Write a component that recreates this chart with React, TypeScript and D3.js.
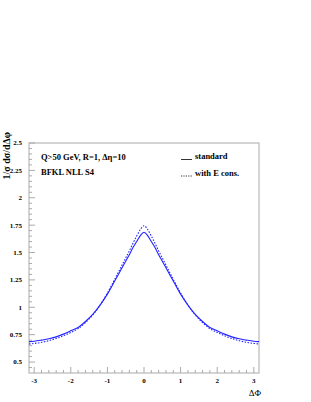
import React, { useEffect, useRef } from 'react';
import * as d3 from 'd3';

// delta phi grid and the two curves
const dphi = [
    -Math.PI, -3.0, -2.8, -2.6, -2.4, -2.2, -2.0, -1.8, -1.6, -1.4, -1.2, -1.0, -0.8, -0.6, -0.5, -0.4, -0.3, -0.2, -0.1,
    0,
    0.1, 0.2, 0.3, 0.4, 0.5, 0.6, 0.8, 1.0, 1.2, 1.4, 1.6, 1.8, 2.0, 2.2, 2.4, 2.6, 2.8, 3.0, Math.PI,
];
const standard = [
    0.686, 0.69, 0.70, 0.712, 0.73, 0.755, 0.785, 0.815, 0.87, 0.935, 1.02, 1.12, 1.24, 1.36, 1.42, 1.48, 1.545, 1.60, 1.655,
    1.685,
    1.655, 1.60, 1.545, 1.48, 1.42, 1.36, 1.24, 1.12, 1.02, 0.935, 0.87, 0.815, 0.785, 0.755, 0.73, 0.712, 0.70, 0.69, 0.686,
];
const withEcons = [
    0.665, 0.67, 0.68, 0.695, 0.715, 0.74, 0.77, 0.805, 0.86, 0.93, 1.02, 1.13, 1.255, 1.385, 1.45, 1.515, 1.585, 1.65, 1.71,
    1.745,
    1.71, 1.65, 1.585, 1.515, 1.45, 1.385, 1.255, 1.13, 1.02, 0.93, 0.86, 0.805, 0.77, 0.74, 0.715, 0.695, 0.68, 0.67, 0.665,
];

const yMajor = [0.5, 0.75, 1, 1.25, 1.5, 1.75, 2, 2.25, 2.5];
const yMajorLabels = ['0.5', '0.75', '1', '1.25', '1.5', '1.75', '2', '2.25', '2.5'];
const xMajor = [-3, -2, -1, 0, 1, 2, 3];

const App: React.FC = () => {
    const svgRef = useRef<SVGSVGElement>(null);

    useEffect(() => {
        if (!svgRef.current) return;
        document.body.style.margin = '0';

        d3.select(svgRef.current).selectAll("*").remove();

        const width = 311;
        const height = 402;
        const m = { left: 29, right: 52, top: 143, bottom: 29 };
        const font = "'Liberation Serif', 'Times New Roman', serif";
        const frameColor = "#aaaaaa";

        const svg = d3.select(svgRef.current)
            .attr("width", width)
            .attr("height", height);

        const x = d3.scaleLinear().domain([-Math.PI, Math.PI]).range([m.left, width - m.right]);
        const y = d3.scaleLinear().domain([0.4, 2.5]).range([height - m.bottom, m.top]);

        // Frame
        svg.append("rect")
            .attr("x", m.left)
            .attr("y", m.top)
            .attr("width", width - m.left - m.right)
            .attr("height", height - m.top - m.bottom)
            .attr("fill", "none")
            .attr("stroke", frameColor)
            .attr("stroke-width", 1);

        // Y ticks (inside, pointing right)
        const yMinor = d3.range(0.45, 2.5, 0.05).filter(v => !yMajor.some(t => Math.abs(t - v) < 1e-6));
        svg.append("g").selectAll("line")
            .data(yMinor)
            .join("line")
            .attr("x1", m.left).attr("x2", m.left + 3)
            .attr("y1", d => y(d)).attr("y2", d => y(d))
            .attr("stroke", frameColor);
        svg.append("g").selectAll("line")
            .data(yMajor)
            .join("line")
            .attr("x1", m.left).attr("x2", m.left + 6)
            .attr("y1", d => y(d)).attr("y2", d => y(d))
            .attr("stroke", frameColor);
        svg.append("g").selectAll("text")
            .data(yMajor)
            .join("text")
            .attr("x", m.left - 7)
            .attr("y", d => y(d))
            .attr("dy", "0.35em")
            .attr("text-anchor", "end")
            .style("font-family", font)
            .style("font-weight", "bold")
            .style("font-size", "7px")
            .text((d, i) => yMajorLabels[i]);

        // X ticks (inside, pointing up)
        const xMinor = d3.range(-3.0, 3.01, 0.2).filter(v => !xMajor.some(t => Math.abs(t - v) < 1e-6));
        svg.append("g").selectAll("line")
            .data(xMinor)
            .join("line")
            .attr("x1", d => x(d)).attr("x2", d => x(d))
            .attr("y1", height - m.bottom).attr("y2", height - m.bottom - 3)
            .attr("stroke", frameColor);
        svg.append("g").selectAll("line")
            .data(xMajor)
            .join("line")
            .attr("x1", d => x(d)).attr("x2", d => x(d))
            .attr("y1", height - m.bottom).attr("y2", height - m.bottom - 6)
            .attr("stroke", frameColor);
        svg.append("g").selectAll("text")
            .data(xMajor)
            .join("text")
            .attr("x", d => x(d))
            .attr("y", height - m.bottom + 9.5)
            .attr("text-anchor", "middle")
            .style("font-family", font)
            .style("font-weight", "bold")
            .style("font-size", "7px")
            .text(d => String(d));

        // Curves
        const line = d3.line<number>()
            .x((d, i) => x(dphi[i]))
            .y(d => y(d))
            .curve(d3.curveMonotoneX);

        svg.append("path")
            .attr("d", line(standard))
            .attr("fill", "none")
            .attr("stroke", "#2323ff")
            .attr("stroke-width", 1.1);

        svg.append("path")
            .attr("d", line(withEcons))
            .attr("fill", "none")
            .attr("stroke", "#2323ff")
            .attr("stroke-width", 1.1)
            .attr("stroke-dasharray", "1.5,1.5");

        // Axis titles
        svg.append("text")
            .attr("transform", `translate(9.5,${m.top - 11}) rotate(-90)`)
            .attr("text-anchor", "end")
            .style("font-family", font)
            .style("font-weight", "bold")
            .style("font-size", "10px")
            .text("1/σ dσ/dΔφ");

        svg.append("text")
            .attr("x", width - m.right + 2)
            .attr("y", height - 6)
            .attr("text-anchor", "end")
            .style("font-family", font)
            .style("font-size", "9px")
            .text("ΔΦ");

        // Annotations
        const notes = [
            { t: "Q>50 GeV, R=1, Δη=10", yy: 159.5 },
            { t: "BFKL NLL S4", yy: 174.5 },
        ];
        svg.append("g").selectAll("text")
            .data(notes)
            .join("text")
            .attr("x", 41)
            .attr("y", d => d.yy)
            .style("font-family", font)
            .style("font-weight", "bold")
            .style("font-size", "8.5px")
            .text(d => d.t);

        // Legend
        const legend = [
            { t: "standard", dash: null as string | null, yy: 159.5 },
            { t: "with E cons.", dash: "1.2,1.2", yy: 176 },
        ];
        const lg = svg.append("g").selectAll("g")
            .data(legend)
            .join("g");
        lg.append("line")
            .attr("x1", 181).attr("x2", 192)
            .attr("y1", d => d.yy).attr("y2", d => d.yy)
            .attr("stroke", "#000")
            .attr("stroke-width", 0.8)
            .attr("stroke-dasharray", d => d.dash);
        lg.append("text")
            .attr("x", 195)
            .attr("y", d => d.yy - 0.5)
            .style("font-family", font)
            .style("font-weight", "bold")
            .style("font-size", "8.5px")
            .text(d => d.t);
    }, []);

    return <svg ref={svgRef} style={{ display: 'block' }} />;
};

export default App;
